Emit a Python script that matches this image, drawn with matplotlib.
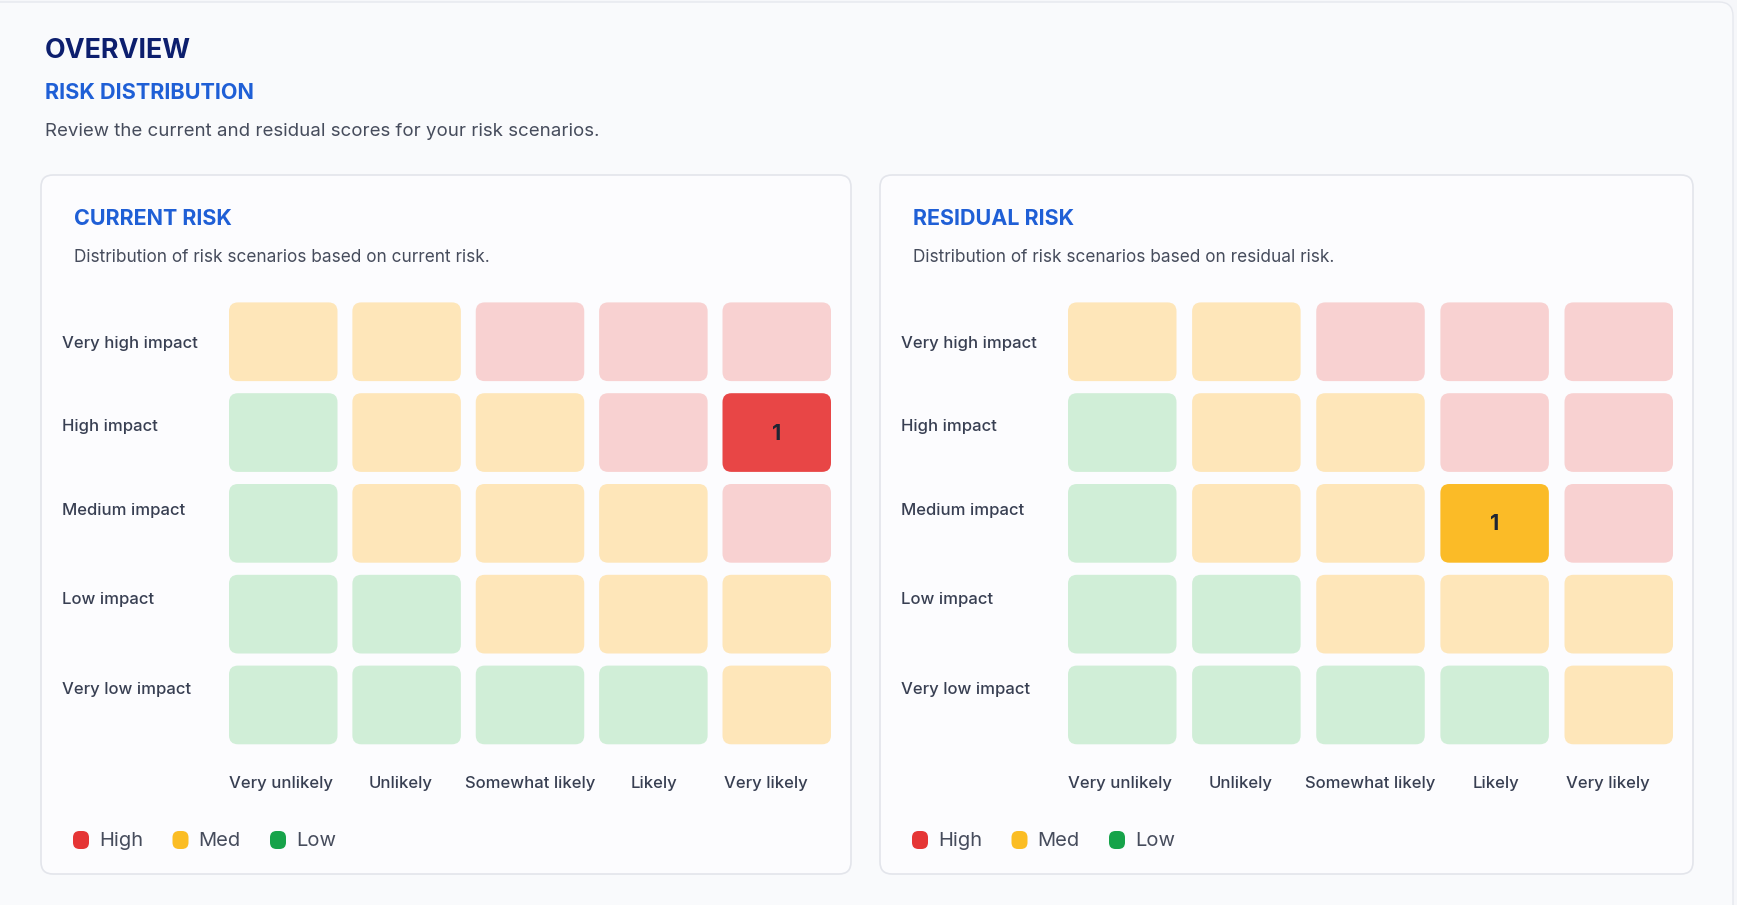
import matplotlib
matplotlib.use("Agg")
import matplotlib.pyplot as plt
from matplotlib.patches import FancyBboxPatch

# ---- data ----
impact_labels = ["Very high impact", "High impact", "Medium impact", "Low impact", "Very low impact"]
likelihood_labels = ["Very unlikely", "Unlikely", "Somewhat likely", "Likely", "Very likely"]

# risk level per cell, rows = impact (top to bottom), cols = likelihood
risk_levels = [
    ["M", "M", "H", "H", "H"],
    ["L", "M", "M", "H", "H"],
    ["L", "M", "M", "M", "H"],
    ["L", "L", "M", "M", "M"],
    ["L", "L", "L", "L", "M"],
]

current_counts = [
    [0, 0, 0, 0, 0],
    [0, 0, 0, 0, 1],
    [0, 0, 0, 0, 0],
    [0, 0, 0, 0, 0],
    [0, 0, 0, 0, 0],
]
residual_counts = [
    [0, 0, 0, 0, 0],
    [0, 0, 0, 0, 0],
    [0, 0, 0, 1, 0],
    [0, 0, 0, 0, 0],
    [0, 0, 0, 0, 0],
]

legend_labels = ["High", "Med", "Low"]

# ---- styles ----
light = {"H": "#f8d1d1", "M": "#fee6b9", "L": "#d0eed7"}
strong = {"H": "#e84646", "M": "#fbbb27", "L": "#22a94f"}
legend_colors = ["#e53535", "#fbbd24", "#16a34a"]
navy = "#0d1f6e"
blue = "#1f5fd6"
body = "#464c5c"
label_c = "#383f52"

plt.rcParams["font.family"] = ["Inter", "DejaVu Sans"]

W, H = 1737, 905
fig = plt.figure(figsize=(W / 100, H / 100), dpi=100)
fig.patch.set_facecolor("#f6f7fa")
ax = fig.add_axes([0, 0, 1, 1])
ax.set_xlim(0, W)
ax.set_ylim(H, 0)
ax.axis("off")

# outer page card
ax.add_patch(FancyBboxPatch((-20, 2), W + 16, H + 40,
                            boxstyle="round,pad=0,rounding_size=14",
                            fc="#f9fafc", ec="#e6e8ee", lw=1.0))

ax.text(45, 51, "OVERVIEW", fontsize=19.3, fontweight="bold", color=navy, va="center")
ax.text(45, 93, "RISK DISTRIBUTION", fontsize=15.6, fontweight="bold", color=blue, va="center")
ax.text(45, 132, "Review the current and residual scores for your risk scenarios.",
        fontsize=13.45, color=body, va="center")


def draw_panel(x0, x1, title, subtitle, counts):
    y0, y1 = 175, 874
    ax.add_patch(FancyBboxPatch((x0, y0), x1 - x0, y1 - y0,
                                boxstyle="round,pad=0,rounding_size=12",
                                fc="#fcfcfe", ec="#e3e5eb", lw=1.2))
    ax.text(x0 + 33, 219, title, fontsize=15.5, fontweight="bold", color=blue, va="center")
    ax.text(x0 + 33, 257, subtitle, fontsize=12.4, color=body, va="center")

    cell_x0 = x0 + 188
    pitch_x = (x1 - x0 - 188 - 20 - 108.5) / 4
    cw, ch = 108.5, 78.7
    top, pitch_y = 302.4, 90.8
    label_shift = [2, -6, -13, -15, -15]
    col_shift = [-2, -6, 0, 1, -11]

    for r, imp in enumerate(impact_labels):
        cy = top + r * pitch_y
        ax.text(x0 + 21, cy + ch / 2 + label_shift[r], imp, fontsize=12,
                fontweight="medium", color=label_c, va="center")
        for c in range(len(likelihood_labels)):
            cx = cell_x0 + c * pitch_x
            lvl = risk_levels[r][c]
            n = counts[r][c]
            fc = strong[lvl] if n > 0 else light[lvl]
            ax.add_patch(FancyBboxPatch((cx, cy), cw, ch,
                                        boxstyle="round,pad=0,rounding_size=9",
                                        fc=fc, ec="none"))
            if n > 0:
                ax.text(cx + cw / 2, cy + ch / 2 + 1, str(n), fontsize=15.5, fontweight="bold",
                        color="#1f2533", ha="center", va="center")

    for c, lab in enumerate(likelihood_labels):
        cx = cell_x0 + c * pitch_x + cw / 2 + col_shift[c]
        ax.text(cx, 783, lab, fontsize=12, fontweight="medium", color=label_c,
                ha="center", va="center")

    for i, (lab, col) in enumerate(zip(legend_labels, legend_colors)):
        lx = x0 + 32 + [0, 99.5, 197][i]
        ax.add_patch(FancyBboxPatch((lx, 831), 16, 18,
                                    boxstyle="round,pad=0,rounding_size=6.5",
                                    fc=col, ec="none"))
        ax.text(lx + 26, 841, lab, fontsize=14.5, color=body, va="center")


draw_panel(41, 851, "CURRENT RISK", "Distribution of risk scenarios based on current risk.",
           current_counts)
draw_panel(880, 1693, "RESIDUAL RISK", "Distribution of risk scenarios based on residual risk.",
           residual_counts)

plt.savefig("out.png", dpi=100, facecolor=fig.get_facecolor())
plt.close()
